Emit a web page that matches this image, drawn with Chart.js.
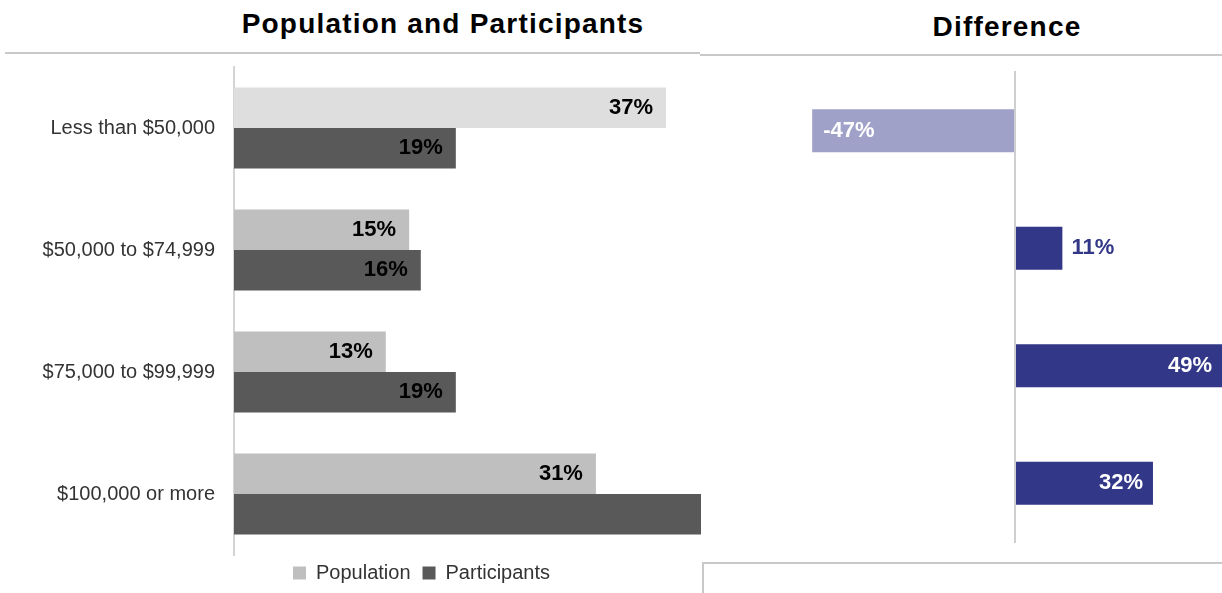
<!DOCTYPE html>
<html>
<head>
<meta charset="utf-8">
<script src="https://cdn.jsdelivr.net/npm/chart.js@4.4.1/dist/chart.umd.min.js"></script>
<style>
  body { margin: 0; background: #fff; font-family: "Liberation Sans", Arial, sans-serif; }
  #wrap { position: relative; width: 1222px; height: 593px; overflow: hidden; }
  .title { position: absolute; font-weight: bold; font-size: 28px; line-height: 28px; letter-spacing: 1.2px; color: #000; white-space: nowrap; transform: translateX(-50%); }
  .rule { position: absolute; background: #c9c9c9; }
  #leftBox { position: absolute; left: 0; top: 52px; width: 710px; height: 560px; }
  #rightBox { position: absolute; left: 700px; top: 60px; width: 522px; height: 533px; }
</style>
</head>
<body>
<div id="wrap">
  <div class="title" style="left:443px; top:10px;">Population and Participants</div>
  <div class="title" style="left:1007px; top:13px;">Difference</div>
  <div class="rule" style="left:5px; top:52px; width:695px; height:2px;"></div>
  <div class="rule" style="left:700px; top:54px; width:522px; height:2px;"></div>
  <div class="rule" style="left:702px; top:562px; width:520px; height:2px;"></div>
  <div class="rule" style="left:702px; top:562px; width:2px; height:31px;"></div>
  <div id="leftBox"><canvas id="mainChart"></canvas></div>
  <div id="rightBox"><canvas id="diffChart"></canvas></div>
</div>
<script>
// Data
const incomeGroups = ['Less than $50,000', '$50,000 to $74,999', '$75,000 to $99,999', '$100,000 or more'];
const population = [37, 15, 13, 31];
const participants = [19, 16, 19, 41];
const difference = [-47, 11, 49, 32];

const popColor = '#bfbfbf';
const popHighlight = '#dedede';

Chart.defaults.font.family = '"Liberation Sans", Arial, sans-serif';
Chart.defaults.animation = false;

// draws the % labels on the bars
const barLabels = {
    id: 'barLabels',
    afterDatasetsDraw(chart, args, opts) {
        const ctx = chart.ctx;
        const xScale = chart.scales.x;
        ctx.save();
        ctx.font = 'bold 22px "Liberation Sans", Arial, sans-serif';
        ctx.textBaseline = 'middle';
        chart.data.datasets.forEach((ds, di) => {
            const meta = chart.getDatasetMeta(di);
            meta.data.forEach((bar, i) => {
                const v = ds.data[i];
                if (opts.mode === 'main') {
                    if (v > xScale.max) return;
                    ctx.fillStyle = '#000';
                    ctx.textAlign = 'right';
                    ctx.fillText(v + '%', bar.x - 13, bar.y);
                } else {
                    const end = Math.min(Math.max(bar.x, chart.chartArea.left), chart.chartArea.right);
                    const len = Math.abs(end - bar.base);
                    if (v < 0) {
                        ctx.fillStyle = '#fff';
                        ctx.textAlign = 'left';
                        ctx.fillText(v + '%', end + 11, bar.y);
                    } else if (len < 100) {
                        ctx.fillStyle = '#333787';
                        ctx.textAlign = 'left';
                        ctx.fillText(v + '%', end + 9, bar.y);
                    } else {
                        ctx.fillStyle = '#fff';
                        ctx.textAlign = 'right';
                        ctx.fillText(v + '%', end - 10, bar.y);
                    }
                }
            });
        });
        ctx.restore();
    }
};

// nudge the legend so it sits where the original one is
const legendShift = {
    id: 'legendShift',
    afterLayout(chart, args, opts) {
        const lg = chart.legend;
        lg.left += opts.dx; lg.right += opts.dx;
        lg.top += opts.dy; lg.bottom += opts.dy;
    }
};

new Chart(document.getElementById('mainChart'), {
    type: 'bar',
    data: {
        labels: incomeGroups,
        datasets: [{
            label: 'Population',
            data: population,
            backgroundColor: (c) => c.dataIndex === 0 ? popHighlight : popColor,
            categoryPercentage: 0.664,
            barPercentage: 1
        }, {
            label: 'Participants',
            data: participants,
            backgroundColor: '#595959',
            categoryPercentage: 0.664,
            barPercentage: 1
        }]
    },
    options: {
        indexAxis: 'y',
        responsive: true,
        maintainAspectRatio: false,
        layout: { padding: { left: 40, right: 9, top: 0, bottom: 15 } },
        plugins: {
            legend: {
                position: 'bottom',
                labels: {
                    boxWidth: 13,
                    boxHeight: 13,
                    padding: 12,
                    color: '#333',
                    font: { size: 20 },
                    generateLabels: (chart) => {
                        const items = Chart.defaults.plugins.legend.labels.generateLabels(chart);
                        items[0].fillStyle = popColor;
                        items[0].strokeStyle = popColor;
                        return items;
                    }
                }
            },
            legendShift: { dx: 51, dy: -4 },
            tooltip: { enabled: false },
            barLabels: { mode: 'main' }
        },
        scales: {
            x: { display: false, min: 0, max: 40 },
            y: {
                afterFit: (s) => { s.width = 194; },
                grid: { display: true, drawOnChartArea: false, drawTicks: true, tickLength: 16, tickColor: 'rgba(0,0,0,0)' },
                border: { color: '#d4d4d4', width: 2 },
                ticks: { color: '#333', padding: 3, font: { size: 20 } }
            }
        }
    },
    plugins: [barLabels, legendShift]
});

new Chart(document.getElementById('diffChart'), {
    type: 'bar',
    data: {
        labels: incomeGroups,
        datasets: [{
            label: 'Difference',
            data: difference,
            backgroundColor: (c) => c.raw < 0 ? '#a0a1c8' : '#333787',
            categoryPercentage: 0.366,
            barPercentage: 1
        }]
    },
    options: {
        indexAxis: 'y',
        responsive: true,
        maintainAspectRatio: false,
        layout: { padding: { left: 0, right: 0, top: 12, bottom: 51 } },
        plugins: {
            legend: { display: false },
            tooltip: { enabled: false },
            barLabels: { mode: 'diff' }
        },
        scales: {
            x: { display: false, min: -73, max: 48 },
            y: {
                position: { x: 0 },
                grid: { display: false, drawTicks: false },
                border: { color: '#cfcfcf', width: 2, z: 1 },
                ticks: { display: false }
            }
        }
    },
    plugins: [barLabels]
});
</script>
</body>
</html>
